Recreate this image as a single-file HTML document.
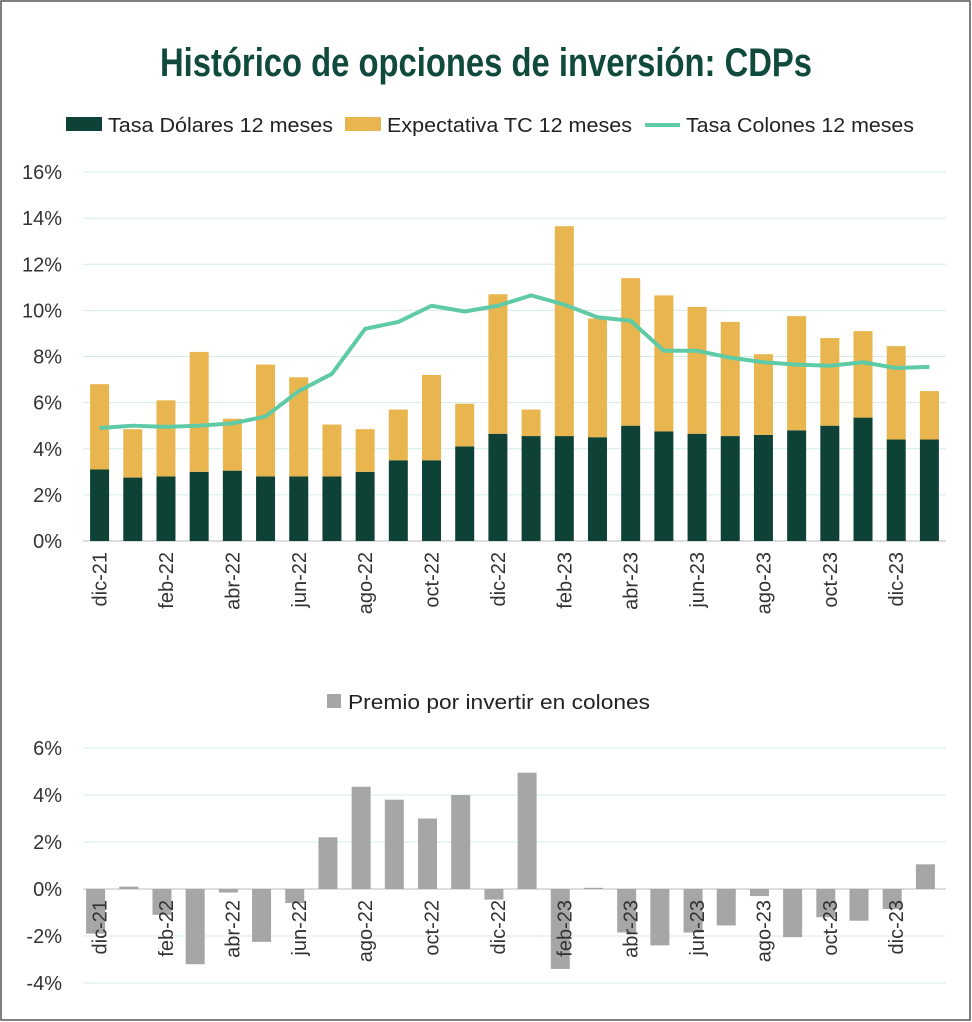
<!DOCTYPE html>
<html><head><meta charset="utf-8"><style>
html,body{margin:0;padding:0;background:#fff;}
svg{display:block;font-family:"Liberation Sans",sans-serif;}
</style></head><body>
<svg id="c" width="972" height="1022" xmlns="http://www.w3.org/2000/svg">
<rect x="1" y="1" width="969" height="1019" fill="#fff" stroke="#555" stroke-width="1.5"/>
<text x="486" y="76" text-anchor="middle" font-size="40" font-weight="bold" fill="#0f4a3c" textLength="652" lengthAdjust="spacingAndGlyphs">Histórico de opciones de inversión: CDPs</text>
<g id="topg"></g>
<g id="botg"></g>
</svg>
<script>
const months=["dic-21","ene-22","feb-22","mar-22","abr-22","may-22","jun-22","jul-22","ago-22","sep-22","oct-22","nov-22","dic-22","ene-23","feb-23","mar-23","abr-23","may-23","jun-23","jul-23","ago-23","sep-23","oct-23","nov-23","dic-23","ene-24"];
const dolares=[3.1,2.75,2.8,3.0,3.05,2.8,2.8,2.8,3.0,3.5,3.5,4.1,4.65,4.55,4.55,4.5,5.0,4.75,4.65,4.55,4.6,4.8,5.0,5.35,4.4,4.4];
const expectativa=[3.7,2.1,3.3,5.2,2.25,4.85,4.3,2.25,1.85,2.2,3.7,1.85,6.05,1.15,9.1,5.15,6.4,5.9,5.5,4.95,3.5,4.95,3.8,3.75,4.05,2.1];
const colones=[4.9,5.0,4.95,5.0,5.1,5.4,6.5,7.25,9.2,9.5,10.2,9.95,10.2,10.65,10.25,9.7,9.55,8.25,8.25,7.95,7.75,7.65,7.6,7.75,7.5,7.55];
const premio=[-1.9,0.1,-1.1,-3.2,-0.15,-2.25,-0.6,2.2,4.35,3.8,3.0,4.0,-0.45,4.95,-3.4,0.05,-1.85,-2.4,-1.85,-1.55,-0.3,-2.05,-1.2,-1.35,-0.85,1.05];
const topTicks=[0,2,4,6,8,10,12,14,16];
const botTicks=[-4,-2,0,2,4,6];
const NS="http://www.w3.org/2000/svg";
function mk(p,t,a,txt){const e=document.createElementNS(NS,t);for(const k in a)e.setAttribute(k,a[k]);if(txt!==undefined)e.textContent=txt;p.appendChild(e);return e;}
const x0=83,x1=946,step=(x1-x0)/months.length;
const xc=i=>x0+step*(i+0.5);
const yT=v=>541-v*(369/16);
const yB=v=>889-v*(141/6);
const topG=document.getElementById('topg'),botG=document.getElementById('botg');
let lg=mk(topG,'g',{});


let l1=mk(lg,'rect',{x:66,y:117,width:36,height:14,fill:'#0f4237'});


mk(lg,'text',{x:108,y:132,'font-size':20,fill:'#222',textLength:225,lengthAdjust:'spacingAndGlyphs'},'Tasa Dólares 12 meses');
let l2=mk(lg,'rect',{x:345,y:117,width:36,height:14,fill:'#e8b54f'});


mk(lg,'text',{x:387,y:132,'font-size':20,fill:'#222',textLength:245,lengthAdjust:'spacingAndGlyphs'},'Expectativa TC 12 meses');
let l3=mk(lg,'line',{x1:645,y1:125,x2:680,y2:125,stroke:'#5ecba6','stroke-width':4});


mk(lg,'text',{x:686,y:132,'font-size':20,fill:'#222',textLength:228,lengthAdjust:'spacingAndGlyphs'},'Tasa Colones 12 meses');
topTicks.forEach(t=>{
 const g=mk(topG,'line',{x1:x0,x2:x1,y1:yT(t),y2:yT(t),stroke:t===0?'#bbb':'#d3ece3','stroke-width':1});
 
 
 const l=mk(topG,'text',{x:62,y:yT(t)+7,'text-anchor':'end','font-size':20,fill:'#333'},t+'%');
 
 
});
const bw=19;
months.forEach((m,i)=>{
 const b1=mk(topG,'rect',{x:xc(i)-bw/2,y:yT(dolares[i]),width:bw,height:yT(0)-yT(dolares[i]),fill:'#0f4237'});
 
 
 const t=dolares[i]+expectativa[i];
 const b2=mk(topG,'rect',{x:xc(i)-bw/2,y:yT(t),width:bw,height:yT(dolares[i])-yT(t),fill:'#e8b54f'});
 
 
 if(i%2===0){
  const tl=mk(topG,'text',{transform:`translate(${xc(i)+7},552) rotate(-90)`,'text-anchor':'end','font-size':20,fill:'#333'},m);
  
  
 }
});
const line=mk(topG,'polyline',{points:colones.map((v,i)=>xc(i)+','+yT(v)).join(' '),fill:'none',stroke:'#5ecba6','stroke-width':4,'stroke-linejoin':'round'});


let bl2=mk(botG,'rect',{x:327,y:694,width:14,height:14,fill:'#a6a6a6'});


mk(botG,'text',{x:348,y:709,'font-size':20,fill:'#222',textLength:302,lengthAdjust:'spacingAndGlyphs'},'Premio por invertir en colones');
botTicks.forEach(t=>{
 const g=mk(botG,'line',{x1:x0,x2:x1,y1:yB(t),y2:yB(t),stroke:t===0?'#bbb':'#d3ece3','stroke-width':1});
 
 
 const l=mk(botG,'text',{x:62,y:yB(t)+7,'text-anchor':'end','font-size':20,fill:'#333'},t+'%');
 
 
});
premio.forEach((v,i)=>{
 const y=Math.min(yB(v),yB(0)),h=Math.abs(yB(v)-yB(0));
 const r=mk(botG,'rect',{x:xc(i)-bw/2-4,y:y,width:bw,height:h,fill:'#a6a6a6'});
 
 
});
months.forEach((m,i)=>{
 if(i%2===0){
  const bl=mk(botG,'text',{transform:`translate(${xc(i)+7},900) rotate(-90)`,'text-anchor':'end','font-size':20,fill:'#333'},m);
  
  
 }
});
</script>
</body></html>
